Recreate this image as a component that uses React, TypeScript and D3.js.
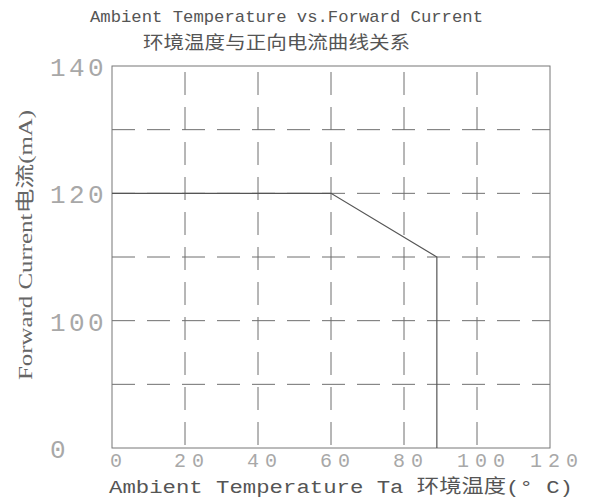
import React from "react";
import * as d3 from "d3";

const xTicks = [0, 20, 40, 60, 80, 100, 120];
const xTickLabels = ["0", "20", "40", "60", "80", "100", "120"];
const yTicks = [80, 90, 100, 110, 120, 130, 140];
const yTickLabels = ["0", "", "100", "", "120", "", "140"];
const curveTemp = [0, 60, 89, 89];
const curveCurrent = [120, 120, 110, 80];

const titleEn = "Ambient Temperature vs.Forward Current";
const titleCn = "环境温度与正向电流曲线关系";
const xTitle = "Ambient Temperature Ta 环境温度(° C)";
const yTitle = "Forward Current电流(mA)";

export default function App() {
  const W = 589, H = 499;
  const left = 112, right = 550, top = 66, bottom = 448;
  const x = d3.scaleLinear().domain([0, 120]).range([left, right]);
  const y = d3.scaleLinear().domain([80, 140]).range([bottom, top]);
  const pts = curveTemp.map((t, i) => [x(t), y(curveCurrent[i])] as [number, number]);
  const line = d3.line()(pts) || "";
  const mono = "'Liberation Mono', 'Noto Sans CJK SC', monospace";
  const gridColor = "#6f6f6f";
  const tickColor = "#a8a8a8";
  return (
    <svg width={W} height={H} style={{ position: "absolute", left: 0, top: 0, background: "#fff" }}>
      <rect x={0} y={0} width={W} height={H} fill="#fff" />
      {/* grid */}
      {xTicks.slice(1, -1).map((v) => (
        <line key={"gx" + v} x1={x(v)} x2={x(v)} y1={top} y2={bottom} stroke={gridColor} strokeWidth={1} strokeDasharray="23 12" strokeDashoffset={-6} />
      ))}
      {yTicks.slice(1, -1).map((v) => (
        <line key={"gy" + v} x1={left} x2={right} y1={y(v)} y2={y(v)} stroke={gridColor} strokeWidth={1} strokeDasharray="23 12" />
      ))}
      {/* frame */}
      <rect x={left} y={top} width={right - left} height={bottom - top} fill="none" stroke="#777" strokeWidth={1} />
      {/* curve */}
      <path d={line} fill="none" stroke="#555" strokeWidth={1.2} />
      {/* x tick labels */}
      {xTicks.map((v, i) => (
        <text key={"xl" + v} x={x(v) + 7} y={467} textAnchor="middle" fontFamily={mono} fontSize={20} letterSpacing={6} fill={tickColor}>
          {xTickLabels[i]}
        </text>
      ))}
      {/* y tick labels */}
      {yTicks.map((v, i) =>
        yTickLabels[i] ? (
          <text key={"yl" + v} x={50} y={y(v) + 10} textAnchor="start" fontFamily={mono} fontSize={26} letterSpacing={3.4} fill={tickColor}>
            {yTickLabels[i]}
          </text>
        ) : null
      )}
      {/* titles */}
      <text x={90} y={22} fontFamily={mono} fontSize={17} textLength={393} lengthAdjust="spacingAndGlyphs" fill="#555">
        {titleEn}
      </text>
      <text x={143} y={49} fontFamily="'Noto Sans CJK SC', sans-serif" fontSize={18} textLength={267} lengthAdjust="spacingAndGlyphs" fill="#555">
        {titleCn}
      </text>
      <text x={109} y={493} fontFamily={mono} fontSize={19} textLength={464} lengthAdjust="spacingAndGlyphs" fill="#555">
        {xTitle}
      </text>
      <text transform={`translate(32,380) rotate(-90)`} x={0} y={0} fontFamily="'Liberation Serif', 'Noto Sans CJK SC', serif" fontSize={19} textLength={270} lengthAdjust="spacingAndGlyphs" fill="#666">
        {yTitle}
      </text>
    </svg>
  );
}
